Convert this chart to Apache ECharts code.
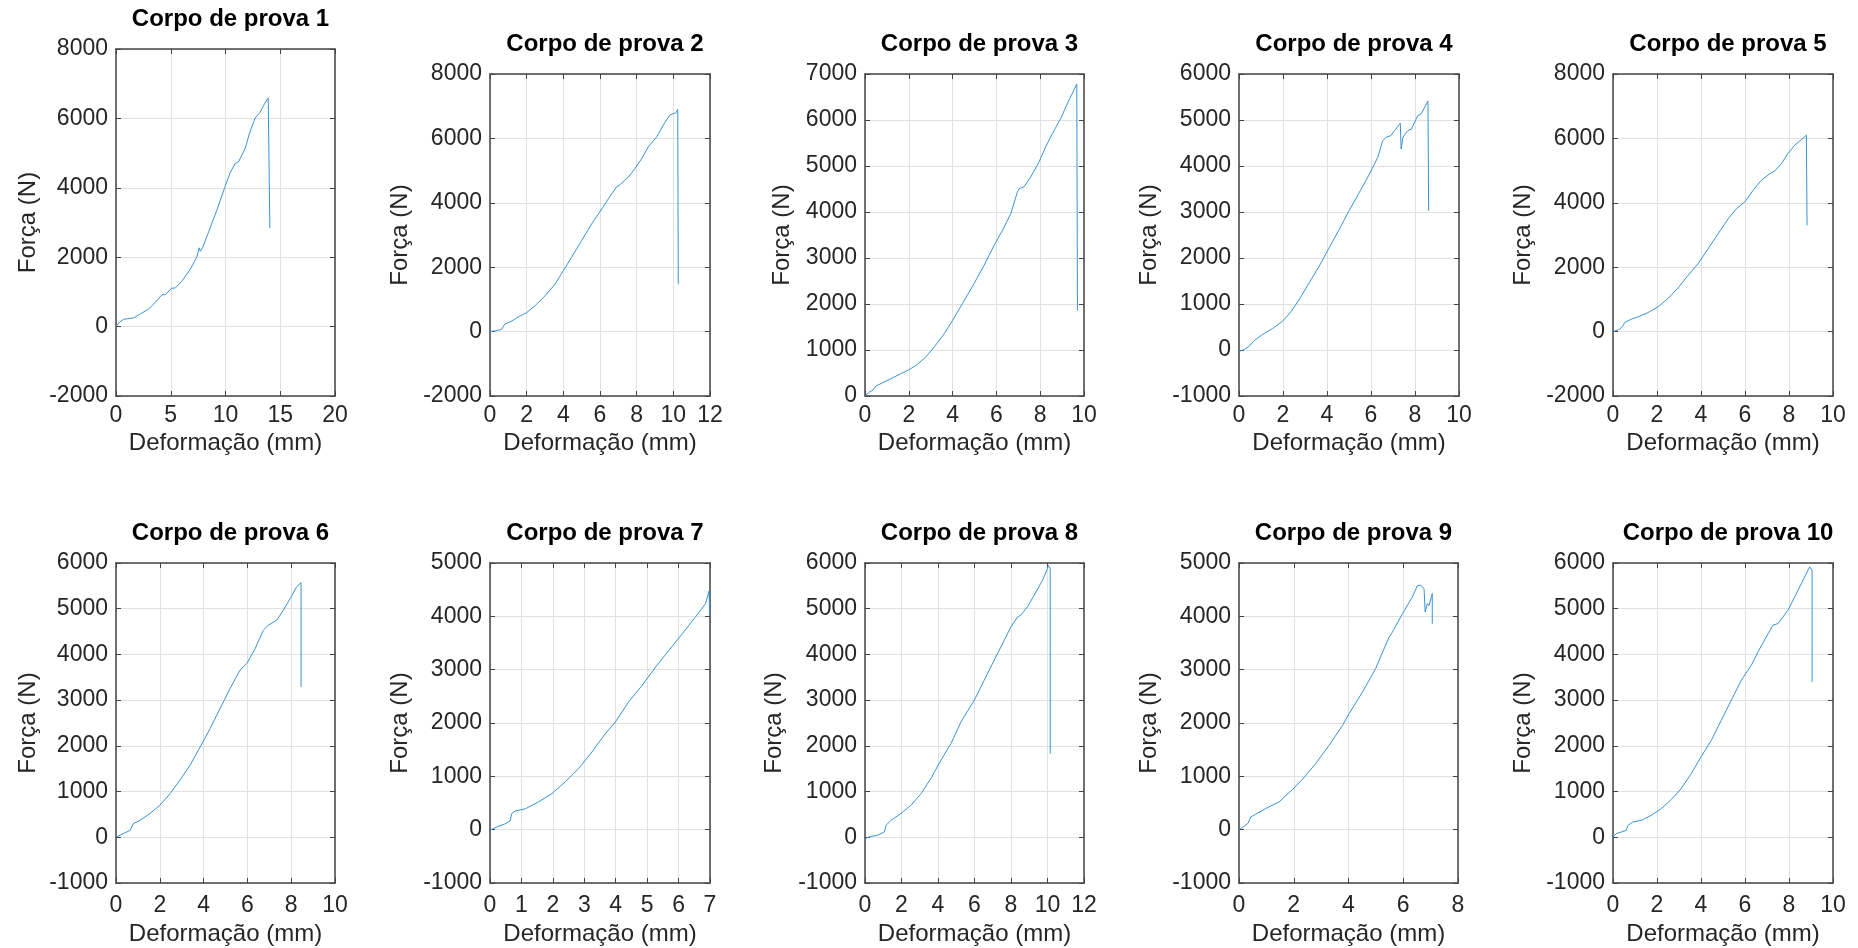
<!DOCTYPE html>
<html>
<head>
<meta charset="utf-8">
<script src="https://cdn.jsdelivr.net/npm/echarts@6/dist/echarts.min.js"></script>
<style>
  html, body { margin: 0; padding: 0; background: #fff; }
  #chart { width: 1858px; height: 948px; }
</style>
</head>
<body>
<div id="chart"></div>
<script>
// curvas força x deformação — [deformação (mm), força (N)]
var cp1 = [[0,0],[0.3,120],[0.7,210],[1.6,250],[2.2,360],[2.95,500],[3.6,700],[4.2,920],[4.5,920],[5.1,1110],[5.4,1110],[6.0,1300],[6.8,1660],[7.4,2020],[7.6,2270],[7.7,2170],[7.9,2270],[8.4,2680],[9.2,3350],[9.9,3980],[10.4,4420],[10.9,4710],[11.2,4750],[11.8,5140],[12.2,5580],[12.7,6010],[13.1,6150],[13.6,6440],[13.9,6590],[14.05,6570],[14.05,2840]];
var cp2 = [[0,0],[0.27,20],[0.64,70],[0.8,230],[1.2,330],[1.55,460],[2.0,590],[2.45,800],[3.0,1110],[3.55,1475],[4.0,1890],[4.45,2310],[5.0,2830],[5.55,3350],[6.1,3810],[6.45,4120],[6.9,4490],[7.1,4570],[7.55,4800],[7.9,5060],[8.27,5370],[8.64,5740],[9.1,6050],[9.45,6410],[9.8,6720],[10.0,6770],[10.13,6790],[10.24,6900],[10.27,6880],[10.27,1470]];
var cp3 = [[0,0],[0.2,87],[0.35,125],[0.5,218],[0.73,270],[1.19,377],[1.64,486],[2.02,573],[2.4,690],[2.78,850],[3.16,1066],[3.62,1356],[4.0,1646],[4.45,2009],[4.98,2444],[5.44,2843],[5.9,3278],[6.28,3604],[6.66,3967],[6.96,4438],[7.04,4510],[7.26,4547],[7.57,4764],[7.95,5091],[8.25,5417],[8.56,5707],[8.94,6034],[9.24,6360],[9.54,6650],[9.67,6780],[9.7,6790],[9.7,1860]];
var cp4 = [[0,-30],[0.23,7],[0.46,80],[0.68,200],[1.06,335],[1.52,465],[1.98,625],[2.36,830],[2.74,1100],[3.19,1460],[3.65,1825],[4.1,2225],[4.56,2625],[5.0,3025],[5.47,3425],[5.93,3825],[6.31,4190],[6.53,4550],[6.69,4625],[6.9,4660],[7.07,4770],[7.33,4930],[7.37,4915],[7.37,4370],[7.45,4625],[7.67,4770],[7.83,4800],[8.13,5100],[8.28,5135],[8.59,5410],[8.62,5410],[8.62,3025]];
var cp5 = [[0,0],[0.3,70],[0.45,180],[0.53,280],[0.83,385],[1.14,460],[1.59,590],[2.05,770],[2.5,1030],[2.95,1350],[3.4,1735],[3.86,2100],[4.32,2570],[4.77,3030],[5.23,3500],[5.6,3810],[5.98,4020],[6.36,4380],[6.74,4700],[7.12,4900],[7.35,4990],[7.65,5210],[7.95,5530],[8.26,5790],[8.56,5960],[8.79,6100],[8.82,6090],[8.82,3300]];
var cp6 = [[0,0],[0.33,80],[0.64,150],[0.79,300],[1.1,370],[1.55,520],[2.0,700],[2.47,955],[2.92,1250],[3.38,1575],[3.84,1975],[4.3,2380],[4.75,2815],[5.21,3255],[5.66,3655],[5.97,3800],[6.35,4125],[6.73,4530],[6.96,4640],[7.34,4750],[7.64,4965],[7.95,5220],[8.25,5480],[8.45,5570],[8.45,3290]];
var cp7 = [[0,-10],[0.21,50],[0.48,110],[0.64,160],[0.69,300],[0.8,350],[1.12,390],[1.54,520],[1.97,675],[2.39,895],[2.82,1145],[3.24,1455],[3.67,1800],[3.99,2020],[4.41,2395],[4.84,2705],[5.27,3050],[5.69,3360],[6.12,3675],[6.54,3990],[6.86,4240],[6.97,4475],[6.99,4475],[6.99,4020]];
var cp8 = [[0,-30],[0.33,20],[0.69,45],[1.06,115],[1.15,260],[1.42,370],[1.97,520],[2.52,700],[3.07,955],[3.61,1285],[4.16,1685],[4.71,2050],[5.26,2525],[5.99,3000],[6.53,3435],[7.08,3875],[7.63,4310],[7.99,4600],[8.36,4820],[8.54,4860],[8.9,5040],[9.27,5295],[9.73,5625],[10.0,5880],[10.04,5950],[10.15,5880],[10.15,1830]];
var cp9 = [[0,0],[0.18,60],[0.34,125],[0.43,240],[0.61,290],[0.97,395],[1.46,520],[1.95,750],[2.31,940],[2.8,1240],[3.29,1580],[3.78,1955],[4.02,2175],[4.51,2580],[4.99,3020],[5.48,3610],[5.6,3700],[5.97,4050],[6.33,4360],[6.52,4580],[6.64,4580],[6.76,4520],[6.8,4080],[6.88,4240],[6.94,4200],[7.06,4425],[7.06,3860]];
var cp10 = [[0,0],[0.15,80],[0.38,115],[0.6,150],[0.68,260],[0.9,335],[1.29,370],[1.74,480],[2.2,630],[2.65,825],[3.1,1065],[3.56,1395],[4.0,1760],[4.47,2120],[4.92,2560],[5.38,3000],[5.83,3435],[6.29,3765],[6.59,4055],[7.05,4455],[7.27,4640],[7.5,4675],[7.95,4965],[8.26,5260],[8.56,5550],[8.86,5840],[8.94,5915],[9.05,5840],[9.05,3400]];

var curves = [cp1, cp2, cp3, cp4, cp5, cp6, cp7, cp8, cp9, cp10];
var titles = ['Corpo de prova 1', 'Corpo de prova 2', 'Corpo de prova 3', 'Corpo de prova 4', 'Corpo de prova 5',
              'Corpo de prova 6', 'Corpo de prova 7', 'Corpo de prova 8', 'Corpo de prova 9', 'Corpo de prova 10'];
// eixos: [min, max, passo]
var xRanges = [[0,20,5],[0,12,2],[0,10,2],[0,10,2],[0,10,2],[0,10,2],[0,7,1],[0,12,2],[0,8,2],[0,10,2]];
var yRanges = [[-2000,8000,2000],[-2000,8000,2000],[0,7000,1000],[-1000,6000,1000],[-2000,8000,2000],
               [-1000,6000,1000],[-1000,5000,1000],[-1000,6000,1000],[-1000,5000,1000],[-1000,6000,1000]];
var xName = 'Deformação (mm)';
var yName = 'Força (N)';

// layout (px): left, top, width, height, nameGap y
var boxes = [
  [116, 49, 219, 347, 76], [490, 74, 220, 322, 78], [865, 74, 219, 322, 71], [1239, 74, 220, 322, 78], [1613, 74, 220, 322, 78],
  [116, 563, 219, 320, 76], [490, 563, 220, 320, 78], [865, 563, 219, 320, 79], [1239, 563, 219, 320, 78], [1613, 563, 220, 320, 78]
];

var ink = '#262626';
var boxColor = '#444';
var font = "'Liberation Sans', Arial, sans-serif";
var gridColor = '#e1e1e1';
var plain = function (v) { return String(v); };

var chart = echarts.init(document.getElementById('chart'), null, { renderer: 'canvas' });

var grid = [], xAxis = [], yAxis = [], series = [], title = [];
boxes.forEach(function (b, i) {
  var row2 = i >= 5;
  grid.push({ left: b[0], top: b[1], width: b[2], height: b[3], containLabel: false });
  title.push({
    text: titles[i],
    left: b[0] + b[2] / 2,
    top: b[1] - 47,
    textAlign: 'center',
    textStyle: { fontFamily: font, fontSize: 24, fontWeight: 'bold', color: '#000' }
  });
  var xr = xRanges[i], yr = yRanges[i];
  // eixos inferior / esquerdo com rótulos
  xAxis.push({
    gridIndex: i, type: 'value', min: xr[0], max: xr[1], interval: xr[2],
    name: xName, nameLocation: 'middle', nameGap: row2 ? 39 : 35,
    nameTextStyle: { fontFamily: font, fontSize: 24, color: ink },
    axisLine: { show: true, onZero: false, lineStyle: { color: boxColor, width: 1.5 } },
    axisTick: { show: true, inside: true, length: 5, lineStyle: { color: boxColor } },
    axisLabel: { fontFamily: font, fontSize: 23, color: ink, margin: row2 ? 11 : 8, formatter: plain },
    splitLine: { show: true, lineStyle: { color: gridColor, width: 1 } }
  });
  xAxis.push({
    gridIndex: i, type: 'value', position: 'top', min: xr[0], max: xr[1], interval: xr[2],
    axisLine: { show: true, onZero: false, lineStyle: { color: boxColor, width: 1.5 } },
    axisTick: { show: true, inside: true, length: 5, lineStyle: { color: boxColor } },
    axisLabel: { show: false }, splitLine: { show: false }
  });
  yAxis.push({
    gridIndex: i, type: 'value', min: yr[0], max: yr[1], interval: yr[2],
    name: yName, nameLocation: 'middle', nameGap: b[4],
    nameTextStyle: { fontFamily: font, fontSize: 24, color: ink },
    axisLine: { show: true, onZero: false, lineStyle: { color: boxColor, width: 1.5 } },
    axisTick: { show: true, inside: true, length: 5, lineStyle: { color: boxColor } },
    axisLabel: { fontFamily: font, fontSize: 23, color: ink, margin: 8, formatter: plain },
    splitLine: { show: true, lineStyle: { color: gridColor, width: 1 } }
  });
  yAxis.push({
    gridIndex: i, type: 'value', position: 'right', min: yr[0], max: yr[1], interval: yr[2],
    axisLine: { show: true, onZero: false, lineStyle: { color: boxColor, width: 1.5 } },
    axisTick: { show: true, inside: true, length: 5, lineStyle: { color: boxColor } },
    axisLabel: { show: false }, splitLine: { show: false }
  });
  series.push({
    type: 'line', xAxisIndex: 2 * i, yAxisIndex: 2 * i,
    data: curves[i], showSymbol: false, symbol: 'none',
    lineStyle: { color: '#3a93d4', width: 1 },
    z: 5
  });
});

chart.setOption({
  animation: false,
  backgroundColor: '#fff',
  title: title,
  grid: grid,
  xAxis: xAxis,
  yAxis: yAxis,
  series: series
});
window.addEventListener('resize', function () { chart.resize(); });
</script>
</body>
</html>
